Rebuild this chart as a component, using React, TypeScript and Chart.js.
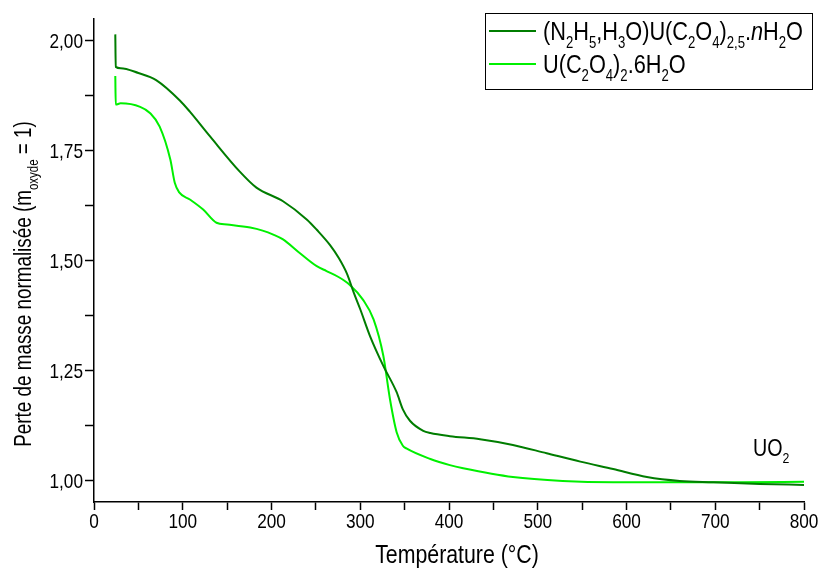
import React, { useEffect, useRef } from "react";
import { Chart, registerables } from "chart.js";

Chart.register(...registerables);

// ---- data ----
const tempDark = [24, 24.5, 30, 50, 70, 97, 108, 131, 164, 183, 213, 240, 251, 266, 276, 285, 293, 300, 311, 326, 341, 348, 356, 371, 379, 401, 435, 472, 510, 548, 585, 623, 660, 698, 750, 800];
const massDark = [2.015, 1.941, 1.938, 1.927, 1.911, 1.864, 1.839, 1.782, 1.703, 1.666, 1.635, 1.593, 1.57, 1.535, 1.505, 1.47, 1.425, 1.389, 1.328, 1.26, 1.2, 1.161, 1.135, 1.112, 1.107, 1.1, 1.093, 1.08, 1.061, 1.042, 1.025, 1.007, 0.998, 0.995, 0.991, 0.989];

const tempLight = [24, 24.5, 30, 52, 63, 74, 86, 91, 96, 108, 123, 138, 150, 176, 190, 202, 213, 230, 251, 262, 275, 288, 303, 315, 326, 333.5, 341, 348, 352, 379, 401, 416, 472, 528, 585, 660, 730, 800];
const massLight = [1.92, 1.855, 1.858, 1.85, 1.836, 1.805, 1.73, 1.677, 1.655, 1.639, 1.616, 1.586, 1.582, 1.575, 1.568, 1.559, 1.548, 1.52, 1.487, 1.476, 1.463, 1.445, 1.411, 1.366, 1.283, 1.184, 1.109, 1.078, 1.072, 1.048, 1.034, 1.027, 1.007, 0.998, 0.995, 0.995, 0.995, 0.996];

const xTickValues = [0, 50, 100, 150, 200, 250, 300, 350, 400, 450, 500, 550, 600, 650, 700, 750, 800];
const xLabelValues = [0, 100, 200, 300, 400, 500, 600, 700, 800];
const yTickValues = [1.0, 1.125, 1.25, 1.375, 1.5, 1.625, 1.75, 1.875, 2.0];
const yLabelValues = [1.0, 1.25, 1.5, 1.75, 2.0];

const DARK = "#007d00";
const LIGHT = "#00f000";
const FONT = '"Liberation Sans", Arial, sans-serif';
const SX = 0.82; // horizontal compression of the text

type Seg = { t: string; sub?: boolean; it?: boolean };

const legendDark: Seg[] = [
  { t: "(N" }, { t: "2", sub: true }, { t: "H" }, { t: "5", sub: true }, { t: ",H" }, { t: "3", sub: true },
  { t: "O)U(C" }, { t: "2", sub: true }, { t: "O" }, { t: "4", sub: true }, { t: ")" }, { t: "2,5", sub: true },
  { t: "." }, { t: "n", it: true }, { t: "H" }, { t: "2", sub: true }, { t: "O" },
];
const legendLight: Seg[] = [
  { t: "U(C" }, { t: "2", sub: true }, { t: "O" }, { t: "4", sub: true }, { t: ")" }, { t: "2", sub: true },
  { t: ".6H" }, { t: "2", sub: true }, { t: "O" },
];
const yTitle: Seg[] = [{ t: "Perte de masse normalisée (m" }, { t: "oxyde", sub: true }, { t: " = 1)" }];
const xTitle: Seg[] = [{ t: "Température (°C)" }];
const uo2Label: Seg[] = [{ t: "UO" }, { t: "2", sub: true }];

function segFont(s: Seg, size: number) {
  const sz = s.sub ? Math.round(size * 0.62) : size;
  return `${s.it ? "italic " : ""}${sz}px ${FONT}`;
}
function richWidth(ctx: CanvasRenderingContext2D, segs: Seg[], size: number) {
  let w = 0;
  for (const s of segs) {
    ctx.font = segFont(s, size);
    w += ctx.measureText(s.t).width;
  }
  return w * SX;
}
function drawRich(ctx: CanvasRenderingContext2D, segs: Seg[], x: number, y: number, size: number) {
  ctx.save();
  ctx.translate(x, y);
  ctx.scale(SX, 1);
  let cx = 0;
  ctx.textBaseline = "alphabetic";
  ctx.textAlign = "left";
  for (const s of segs) {
    ctx.font = segFont(s, size);
    ctx.fillText(s.t, cx, s.sub ? size * 0.3 : 0);
    cx += ctx.measureText(s.t).width;
  }
  ctx.restore();
}

const annotPlugin = {
  id: "annot",
  afterDraw(chart: any) {
    const ctx: CanvasRenderingContext2D = chart.ctx;
    const xs = chart.scales.x;
    const ys = chart.scales.y;
    ctx.save();
    ctx.fillStyle = "#000";
    // tick labels
    for (const v of xLabelValues) {
      const s: Seg[] = [{ t: String(v) }];
      const w = richWidth(ctx, s, 21);
      drawRich(ctx, s, xs.getPixelForValue(v) - w / 2, 528, 21);
    }
    for (const v of yLabelValues) {
      const s: Seg[] = [{ t: v.toFixed(2).replace(".", ",") }];
      const w = richWidth(ctx, s, 21);
      drawRich(ctx, s, 83 - w, ys.getPixelForValue(v) + 7.5, 21);
    }
    // legend box
    const bx = 485, by = 13, bw = 327, bh = 76;
    ctx.strokeStyle = "#000";
    ctx.lineWidth = 1;
    ctx.strokeRect(bx + 0.5, by + 0.5, bw, bh);
    const rows = [
      { segs: legendDark, color: DARK, y: 31 },
      { segs: legendLight, color: LIGHT, y: 64 },
    ];
    for (const r of rows) {
      ctx.strokeStyle = r.color;
      ctx.lineWidth = 2;
      ctx.beginPath();
      ctx.moveTo(489, r.y);
      ctx.lineTo(536, r.y);
      ctx.stroke();
      ctx.fillStyle = "#000";
      drawRich(ctx, r.segs, 543, r.y + 9, 26.5);
    }
    // x title
    const xw = richWidth(ctx, xTitle, 26);
    const xc = (xs.left + xs.right) / 2 + 8;
    drawRich(ctx, xTitle, xc - xw / 2, 563, 26);
    // y title
    const yw = richWidth(ctx, yTitle, 23);
    ctx.save();
    ctx.translate(31, 284);
    ctx.rotate(-Math.PI / 2);
    drawRich(ctx, yTitle, -yw / 2, 0, 23);
    ctx.restore();
    // UO2
    drawRich(ctx, uo2Label, 753, 456, 24);
    ctx.restore();
  },
};

export default function App() {
  const ref = useRef<HTMLCanvasElement>(null);
  useEffect(() => {
    if (!ref.current) return;
    const chart = new Chart(ref.current, {
      type: "scatter",
      data: {
        datasets: [
          {
            label: "dark",
            data: tempDark.map((t, i) => ({ x: t, y: massDark[i] })),
            borderColor: DARK,
            backgroundColor: DARK,
            borderWidth: 2,
            showLine: true,
            pointRadius: 0,
            cubicInterpolationMode: "monotone",
          },
          {
            label: "light",
            data: tempLight.map((t, i) => ({ x: t, y: massLight[i] })),
            borderColor: LIGHT,
            backgroundColor: LIGHT,
            borderWidth: 2,
            showLine: true,
            pointRadius: 0,
            cubicInterpolationMode: "monotone",
          },
        ],
      },
      options: {
        responsive: false,
        animation: false,
        layout: { padding: { top: 19, right: 16, left: 0, bottom: 0 } },
        plugins: { legend: { display: false }, tooltip: { enabled: false } },
        scales: {
          x: {
            type: "linear",
            min: 0,
            max: 800,
            afterBuildTicks: (s: any) => {
              s.ticks = xTickValues.map((v) => ({ value: v }));
            },
            afterFit: (s: any) => {
              s.height = 67;
              s.paddingLeft = 0;
              s.paddingRight = 0;
            },
            ticks: { display: false, autoSkip: false, maxRotation: 0 },
            grid: { drawOnChartArea: false, drawTicks: true, tickLength: 8, tickColor: "#000", tickWidth: 1.5 },
            border: { display: true, color: "#000", width: 1.5 },
          },
          y: {
            type: "linear",
            min: 0.95,
            max: 2.05,
            afterBuildTicks: (s: any) => {
              s.ticks = yTickValues.map((v) => ({ value: v }));
            },
            afterFit: (s: any) => {
              s.width = 94;
              s.paddingTop = 0;
              s.paddingBottom = 0;
            },
            ticks: { display: false, autoSkip: false },
            grid: { drawOnChartArea: false, drawTicks: true, tickLength: 9, tickColor: "#000", tickWidth: 1.5 },
            border: { display: true, color: "#000", width: 1.5 },
          },
        },
      },
      plugins: [annotPlugin],
    } as any);
    return () => chart.destroy();
  }, []);
  return (
    <div style={{ position: "fixed", left: 0, top: 0, width: 820, height: 569, background: "#fff" }}>
      <canvas ref={ref} width={820} height={569} style={{ display: "block" }} />
    </div>
  );
}
